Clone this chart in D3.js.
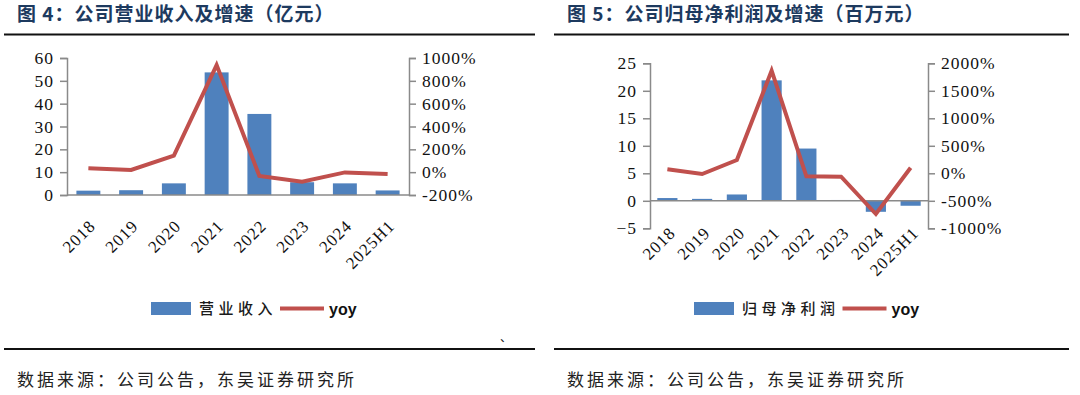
<!DOCTYPE html>
<html lang="zh">
<head>
	<meta charset="UTF-8">
	<title>营业收入与归母净利润</title>
	<style>
		body { margin: 0; background: #fff; }
	</style>
</head>
<body>
<svg id="chart" width="1080" height="395"></svg>
<script src="https://cdn.jsdelivr.net/npm/d3@7/dist/d3.min.js"></script>
<script>
	var years = ["2018", "2019", "2020", "2021", "2022", "2023", "2024", "2025H1"];

	// 图4 营业收入（亿元）及同比
	var revenue = [1.9, 2.1, 5.1, 53.7, 35.5, 5.6, 5.1, 2.0];
	var revenueYoy = [34, 19, 144, 938, -34, -84, -2, -16];
	var revTicks = [0, 10, 20, 30, 40, 50, 60];
	var revYoyTicks = [-200, 0, 200, 400, 600, 800, 1000];

	// 图5 归母净利润（百万元）及同比
	var profit = [0.5, 0.35, 1.15, 21.9, 9.5, 0.15, -2.0, -0.9];
	var profitYoy = [73, -13, 242, 1865, -55, -62, -740, 102];
	var profitTicks = [-5, 0, 5, 10, 15, 20, 25];
	var profitYoyTicks = [-1000, -500, 0, 500, 1000, 1500, 2000];

	var barColor = "#4f81bd";
	var lineColor = "#c0504d";
	var axisColor = "#8a8a8a";
	var titleColor = "#1d3a5f";
	var cjk = '"Noto Sans CJK SC", sans-serif';
	var serif = '"Liberation Serif", "Times New Roman", serif';

	var svg = d3.select("#chart");

	function panel(opt) {
		var g = svg.append("g");

		var x = d3.scaleBand().domain(years)
			.range([opt.x0, opt.x1]).paddingInner(opt.pad).paddingOuter(opt.pad / 2);
		var y = d3.scaleLinear().domain(d3.extent(opt.ticks)).range([opt.yBot, opt.yTop]);
		var y2 = d3.scaleLinear().domain(d3.extent(opt.yoyTicks)).range([opt.yBot, opt.yTop]);

		// title + rules
		g.append("text")
			.attr("x", opt.titleX).attr("y", 21)
			.style("font-family", cjk).style("font-weight", 700).style("font-size", "19px")
			.style("letter-spacing", "1px")
			.attr("fill", titleColor)
			.text(opt.title);
		g.append("line").attr("x1", opt.ruleX0).attr("x2", opt.ruleX1)
			.attr("y1", 34.5).attr("y2", 34.5).attr("stroke", "#111").attr("stroke-width", 2);
		g.append("line").attr("x1", opt.ruleX0).attr("x2", opt.ruleX1)
			.attr("y1", 349).attr("y2", 349).attr("stroke", "#111").attr("stroke-width", 2);
		g.append("text")
			.attr("x", opt.titleX).attr("y", 386)
			.style("font-family", cjk).style("font-size", "17px").style("letter-spacing", "3px")
			.attr("fill", "#222")
			.text("数据来源：公司公告，东吴证券研究所");

		// bars
		g.selectAll("rect.bar").data(opt.bars).join("rect")
			.attr("class", "bar")
			.attr("x", (d, i) => x(years[i]))
			.attr("width", x.bandwidth())
			.attr("y", d => y(Math.max(0, d)))
			.attr("height", d => Math.abs(y(d) - y(0)))
			.attr("fill", barColor);

		// axes
		var left = g.append("g").attr("transform", `translate(${opt.x0},0)`)
			.call(d3.axisLeft(y).tickValues(opt.ticks).tickSize(7).tickPadding(6));
		var right = g.append("g").attr("transform", `translate(${opt.x1},0)`)
			.call(d3.axisRight(y2).tickValues(opt.yoyTicks).tickSize(7).tickPadding(6)
				.tickFormat(d => d + "%"));
		[left, right].forEach(a => {
			a.select(".domain").attr("stroke", axisColor).attr("stroke-width", 1.5);
			a.selectAll(".tick line").attr("stroke", axisColor).attr("stroke-width", 1.5);
			a.selectAll(".tick text")
				.style("font-family", serif)
				.style("font-size", "17.5px").style("letter-spacing", "1px").attr("fill", "#111");
		});
		g.append("line")
			.attr("x1", opt.x0).attr("x2", opt.x1)
			.attr("y1", y(0)).attr("y2", y(0))
			.attr("stroke", axisColor).attr("stroke-width", 1.5);

		// category labels
		g.selectAll("text.cat").data(years).join("text")
			.attr("class", "cat")
			.attr("text-anchor", "end")
			.style("font-family", serif)
			.style("font-size", "17px").style("letter-spacing", "1px").attr("fill", "#111")
			.attr("transform", d => `translate(${x(d) + x.bandwidth() / 2 + opt.labDx},${opt.labY}) rotate(-45)`)
			.text(d => d);

		// yoy line
		var line = d3.line()
			.x((d, i) => x(years[i]) + x.bandwidth() / 2)
			.y(d => y2(d));
		g.append("path")
			.attr("d", line(opt.yoy))
			.attr("fill", "none")
			.attr("stroke", lineColor)
			.attr("stroke-width", 4)
			.attr("stroke-linejoin", "miter");

		// legend
		var lg = g.append("g");
		lg.append("rect").attr("x", opt.legX).attr("y", 302).attr("width", 40).attr("height", 13)
			.attr("fill", barColor);
		lg.append("text")
			.attr("x", opt.legX + 48).attr("y", 313.5)
			.style("font-family", cjk).style("font-size", "15px").style("font-weight", 500)
			.style("letter-spacing", "4.5px")
			.attr("fill", "#1a1a1a")
			.text(opt.barName);
		var lx = opt.legX + 48 + opt.barName.length * 19.5 + 3;
		lg.append("line").attr("x1", lx).attr("x2", lx + 44)
			.attr("y1", 308.5).attr("y2", 308.5)
			.attr("stroke", lineColor).attr("stroke-width", 4);
		lg.append("text")
			.attr("x", lx + 49).attr("y", 314.5)
			.style("font-family", '"Liberation Sans", Arial, sans-serif')
			.style("font-weight", 700).style("font-size", "16px").attr("fill", "#111")
			.text("yoy");
	}

	panel({
		title: "图 4：公司营业收入及增速（亿元）",
		titleX: 17, ruleX0: 4, ruleX1: 535,
		x0: 67, x1: 409, yTop: 58, yBot: 195, pad: 0.44,
		ticks: revTicks, yoyTicks: revYoyTicks,
		bars: revenue, yoy: revenueYoy,
		labDx: 8, labY: 227,
		legX: 151, barName: "营业收入"
	});

	panel({
		title: "图 5：公司归母净利润及增速（百万元）",
		titleX: 567, ruleX0: 554, ruleX1: 1069,
		x0: 650, x1: 928, yTop: 63.3, yBot: 228.3, pad: 0.42,
		ticks: profitTicks, yoyTicks: profitYoyTicks,
		bars: profit, yoy: profitYoy,
		labDx: 9, labY: 234,
		legX: 694, barName: "归母净利润"
	});

	svg.append("text").attr("x", 500).attr("y", 342)
		.style("font-family", cjk).style("font-size", "12px").attr("fill", "#222")
		.text("、");
</script>
</body>
</html>
